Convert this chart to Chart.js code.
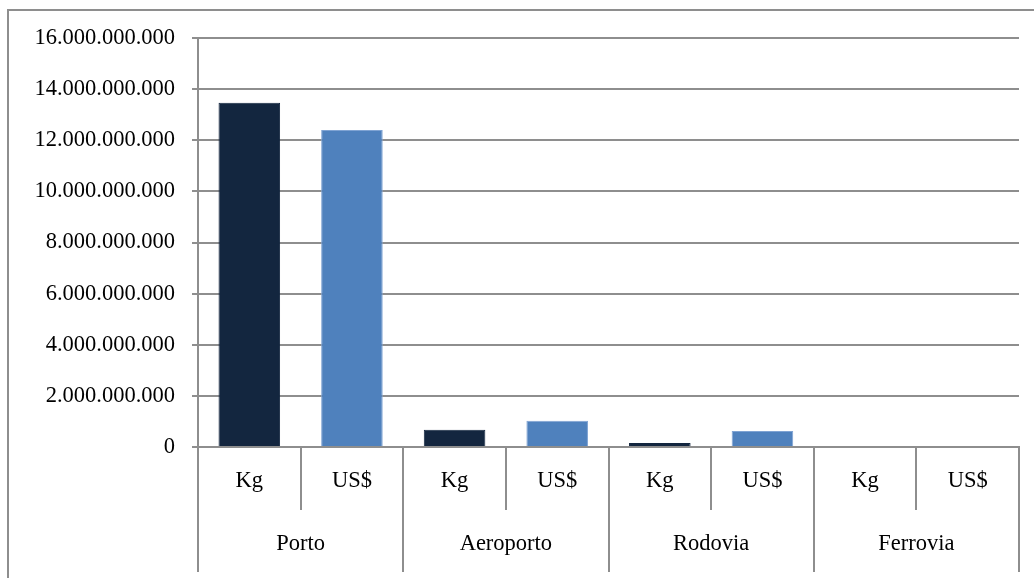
<!DOCTYPE html>
<html>
<head>
<meta charset="utf-8">
<script src="https://cdn.jsdelivr.net/npm/chart.js@4.4.1/dist/chart.umd.min.js"></script>
<style>
  html, body { margin: 0; padding: 0; background: #fff; overflow: hidden; }
  #wrap { position: relative; width: 1034px; height: 578px; }
  #frame {
    position: absolute; left: 7px; top: 9px; width: 1100px; height: 700px;
    border-top: 2px solid #8e8e8e; border-left: 2px solid #8e8e8e;
  }
  canvas { position: absolute; left: 0; top: 0; }
</style>
</head>
<body>
<div id="wrap">
  <div id="frame"></div>
  <canvas id="c" width="1034" height="578"></canvas>
</div>
<script>
// Transport modes (outer axis level) and measures (inner axis level)
const groups = ['Porto', 'Aeroporto', 'Rodovia', 'Ferrovia'];
const measures = ['Kg', 'US$'];

// Values per mode, in kilograms and in US dollars
const kgValues  = [13470000000, 670000000, 160000000, 0];
const usdValues = [12400000000, 1030000000, 630000000, 0];

// Y axis ticks
const yTicks = [0, 2000000000, 4000000000, 6000000000, 8000000000,
                10000000000, 12000000000, 14000000000, 16000000000];

const kgColor = '#13263f';
const usdColor = '#4f81bd';
const gridColor = '#8e8e8e';
const FONT = { family: '"Liberation Serif", "Times New Roman", serif', size: 22.5 };

// Flatten into one bar per (mode, measure)
const labels = [];
const values = [];
const colors = [];
const borders = [];
groups.forEach((g, i) => {
  labels.push(measures[0]); values.push(kgValues[i]);  colors.push(kgColor);  borders.push(kgColor);
  labels.push(measures[1]); values.push(usdValues[i]); colors.push(usdColor); borders.push('#7fa3d3');
});

// Thousands separated with dots
function fmt(v) {
  return String(Math.round(v)).replace(/\B(?=(\d{3})+(?!\d))/g, '.');
}

new Chart(document.getElementById('c'), {
  type: 'bar',
  data: {
    labels: labels,
    datasets: [{
      data: values,
      backgroundColor: colors,
      borderColor: borders,
      borderWidth: 1,
      barPercentage: 0.6,
      categoryPercentage: 1.0
    }]
  },
  options: {
    responsive: false,
    animation: false,
    devicePixelRatio: 1,
    layout: { padding: { top: 38, right: 15, bottom: 6, left: 0 } },
    plugins: { legend: { display: false }, tooltip: { enabled: false } },
    scales: {
      // inner level: Kg / US$ with separators between every bar
      x: {
        type: 'category',
        position: 'bottom',
        offset: true,
        grid: { offset: true, drawOnChartArea: false, color: gridColor, lineWidth: 2, tickLength: 63 },
        border: { display: true, color: gridColor, width: 2 },
        ticks: { font: FONT, color: '#000', padding: -42, maxRotation: 0, autoSkip: false },
        afterFit: (s) => { s.height = 63; }
      },
      // outer level: transport modes
      x2: {
        type: 'category',
        position: 'bottom',
        labels: groups,
        offset: true,
        grid: { offset: true, drawOnChartArea: false, color: gridColor, lineWidth: 2, tickLength: 62 },
        border: { display: false },
        ticks: { font: FONT, color: '#000', padding: -41, maxRotation: 0, autoSkip: false },
        afterFit: (s) => { s.height = 62; }
      },
      y: {
        min: 0,
        max: 16000000000,
        afterBuildTicks: (s) => { s.ticks = yTicks.map(v => ({ value: v })); },
        grid: { color: gridColor, lineWidth: 2, tickLength: 6 },
        border: { display: true, color: gridColor, width: 2 },
        ticks: { font: FONT, color: '#000', padding: 17, callback: (v) => fmt(v) },
        afterFit: (s) => { s.width = 198; }
      }
    }
  }
});
</script>
</body>
</html>
